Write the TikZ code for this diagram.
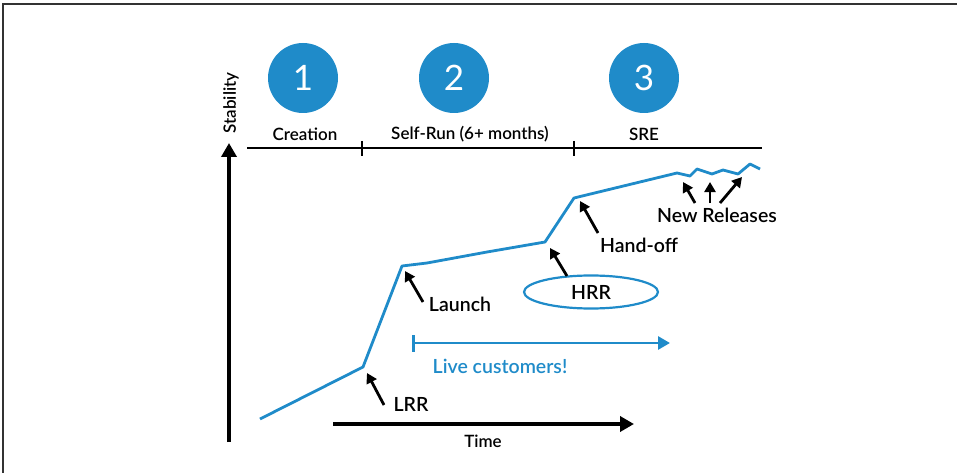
\documentclass[tikz,border=0pt]{standalone}
\usepackage{fontspec}
\setmainfont{Lato Semibold}
\newfontfamily\numfont{Lato}
\usetikzlibrary{arrows.meta,shapes.geometric}
\definecolor{srblue}{RGB}{31,139,201}
\tikzset{phase/.style={circle, fill=srblue, minimum size=70pt, inner sep=0pt, text=white, font=\numfont\fontsize{35}{35}\selectfont}}
\tikzset{hdr/.style={font=\fontsize{17}{17}\selectfont}}
\tikzset{lbl/.style={font=\fontsize{19.5}{19.5}\selectfont}}
\tikzset{note/.style={line width=2.8pt, -{Triangle[length=10pt,width=11pt]}}}
\tikzset{axis/.style={line width=3.5pt, -{Triangle[length=14pt,width=15pt]}}}
\tikzset{life/.style={color=srblue, line width=2.8pt, line join=round}}

\begin{document}
\begin{tikzpicture}[x=1pt,y=-1pt]
  \useasboundingbox (0,0) rectangle (957,473);
  \draw[line width=1.5pt, black!80] (3,473) -- (3,4) -- (957,4);

  % phases
  \foreach \n/\x in {1/303,2/454,3/644} {
    \node[phase] (p\n) at (\x,78) {\n};
  }
  \node[hdr] (creation) at (305,134) {Creation};
  \node[hdr] (selfrun) at (470,134) {Self-Run (6+ months)};
  \node[hdr] (sre) at (644,134) {SRE};

  \coordinate (h0) at (247,148);
  \coordinate (h1) at (762,148);
  \draw[line width=2.2pt] (h0) -- (h1);
  \foreach \x in {362,574} {
    \draw[line width=1.6pt] (\x,141) -- (\x,156);
  }

  % axes
  \coordinate (y0) at (229,442);
  \coordinate (y1) at (229,143);
  \draw[axis] (y0) -- (y1);
  \node[hdr, rotate=90] (stab) at (231,103) {Stability};
  \coordinate (t0) at (333,424);
  \coordinate (t1) at (634,424);
  \draw[axis] (t0) -- (t1);
  \node[hdr] (time) at (483,441) {Time};

  % stability curve
  \coordinate (lrr) at (363,367);
  \coordinate (launch) at (402,266);
  \coordinate (hrr) at (545,242);
  \coordinate (handoff) at (574,198);
  \draw[life] (260,419) -- (lrr) -- (launch) -- (427,263) -- (487,252) -- (hrr)
    -- (handoff) -- (677,173) -- (690,176) -- (697,169) -- (712,174) -- (723,170)
    -- (738,174) -- (750,164) -- (760,169);

  % live customers
  \coordinate (live0) at (412,343);
  \coordinate (live1) at (670,343);
  \draw[life, {Bar[width=17pt]}-{Triangle[length=12pt,width=13pt]}] (live0) -- (live1);
  \node[lbl, text=srblue] (livelbl) at (500,366) {Live customers!};

  % notes
  \node[lbl] (lrrlbl) at (411,404) {LRR};
  \coordinate (lrrtail) at (384,405);
  \draw[note] (lrrtail) -- (367,373);
  \node[lbl] (launchlbl) at (460,304) {Launch};
  \coordinate (launchtail) at (423,302);
  \draw[note] (launchtail) -- (405,271);
  \node[lbl, ellipse, draw=srblue, line width=2.2pt, minimum width=134pt, minimum height=33pt] (hrrlbl) at (591,292) {HRR};
  \coordinate (hrrtail) at (567,276);
  \draw[note] (hrrtail) -- (550,248);
  \node[lbl] (handofflbl) at (639,245) {Hand-off};
  \coordinate (handofftail) at (598,233);
  \draw[note] (handofftail) -- (580,201);
  \node[lbl] (newlbl) at (717,215) {New Releases};
  \foreach \a/\b in {695/683,710/710,720/742} {
    \coordinate (nr\a) at (\a,203);
    \draw[note] (nr\a) -- (\b,\ifnum\b=742 177\else 182\fi);
  }
\end{tikzpicture}
\end{document}
